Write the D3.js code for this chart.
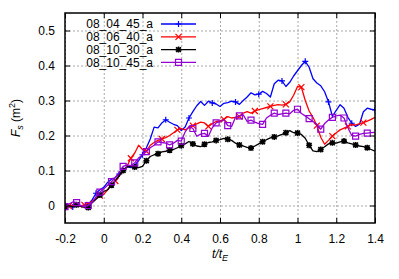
<!DOCTYPE html>
<html>
<head>
<meta charset="utf-8">
<script src="https://cdn.jsdelivr.net/npm/d3@7"></script>
<style>
  body { margin: 0; background: #fff; }
  svg { display: block; font-family: "Liberation Sans", Arial, sans-serif; }
</style>
</head>
<body>
<svg id="chart" width="399" height="279"></svg>
<script>
// normalised time t/t_E, one sample every 0.02
const tNorm = [-0.2,-0.18,-0.16,-0.14,-0.12,-0.1,-0.08,-0.06,-0.04,-0.02,
  0,0.02,0.04,0.06,0.08,0.1,0.12,0.14,0.16,0.18,
  0.2,0.22,0.24,0.26,0.28,0.3,0.32,0.34,0.36,0.38,
  0.4,0.42,0.44,0.46,0.48,0.5,0.52,0.54,0.56,0.58,
  0.6,0.62,0.64,0.66,0.68,0.7,0.72,0.74,0.76,0.78,
  0.8,0.82,0.84,0.86,0.88,0.9,0.92,0.94,0.96,0.98,
  1,1.02,1.04,1.06,1.08,1.1,1.12,1.14,1.16,1.18,
  1.2,1.22,1.24,1.26,1.28,1.3,1.32,1.34,1.36,1.38,1.4]

const fs_08_04_45 = [-0.005,-0.003,-0.004,0.000,-0.002,0.001,0.004,0.016,0.035,0.045,
  0.052,0.066,0.075,0.080,0.090,0.100,0.111,0.108,0.115,0.128,
  0.145,0.165,0.190,0.224,0.222,0.236,0.245,0.238,0.232,0.228,
  0.214,0.224,0.250,0.268,0.285,0.297,0.286,0.298,0.293,0.290,
  0.283,0.292,0.294,0.298,0.296,0.289,0.300,0.310,0.322,0.316,
  0.318,0.326,0.320,0.310,0.348,0.358,0.356,0.340,0.352,0.370,
  0.385,0.400,0.412,0.395,0.362,0.350,0.342,0.325,0.296,0.255,
  0.272,0.288,0.278,0.252,0.235,0.226,0.232,0.268,0.278,0.275,0.273]

const fs_08_06_40 = [-0.004,-0.002,0.000,-0.003,-0.001,0.002,0.006,0.012,0.020,0.028,
  0.032,0.045,0.060,0.070,0.085,0.098,0.112,0.135,0.150,0.172,
  0.160,0.155,0.172,0.180,0.186,0.190,0.194,0.200,0.208,0.216,
  0.220,0.216,0.222,0.228,0.233,0.238,0.236,0.226,0.234,0.240,
  0.242,0.246,0.254,0.250,0.252,0.254,0.264,0.268,0.264,0.270,
  0.274,0.277,0.280,0.283,0.286,0.288,0.287,0.289,0.296,0.315,
  0.340,0.338,0.300,0.270,0.252,0.228,0.195,0.175,0.186,0.198,
  0.208,0.216,0.221,0.226,0.231,0.230,0.234,0.237,0.241,0.246,0.252]

const fs_08_10_30 = [-0.003,0.000,-0.004,0.002,-0.002,-0.005,-0.006,0.008,0.018,0.030,
  0.040,0.045,0.058,0.072,0.085,0.100,0.110,0.112,0.110,0.108,
  0.112,0.128,0.140,0.145,0.148,0.153,0.155,0.158,0.160,0.165,
  0.171,0.176,0.183,0.176,0.170,0.168,0.175,0.180,0.182,0.186,
  0.188,0.192,0.189,0.186,0.178,0.173,0.170,0.166,0.164,0.170,
  0.176,0.182,0.188,0.193,0.196,0.199,0.203,0.208,0.214,0.208,
  0.207,0.203,0.192,0.172,0.156,0.154,0.160,0.168,0.176,0.179,
  0.178,0.182,0.184,0.179,0.176,0.173,0.170,0.168,0.165,0.160,0.155]

const fs_08_10_45 = [-0.003,0.004,0.010,0.008,0.000,-0.003,0.000,0.008,0.025,0.038,
  0.048,0.058,0.068,0.080,0.095,0.112,0.116,0.114,0.122,0.136,
  0.145,0.154,0.165,0.172,0.182,0.180,0.178,0.173,0.178,0.186,
  0.184,0.210,0.226,0.220,0.198,0.204,0.206,0.198,0.222,0.236,
  0.240,0.245,0.228,0.226,0.252,0.256,0.259,0.240,0.244,0.238,
  0.234,0.232,0.250,0.258,0.264,0.260,0.262,0.264,0.262,0.272,
  0.275,0.263,0.256,0.248,0.240,0.232,0.218,0.234,0.244,0.252,
  0.256,0.258,0.250,0.222,0.200,0.198,0.203,0.206,0.207,0.208,0.209]

const seriesNames = ["08_04_45_a", "08_06_40_a", "08_10_30_a", "08_10_45_a"]
const xTicks = [-0.2, 0, 0.2, 0.4, 0.6, 0.8, 1, 1.2, 1.4]
const yTicks = [0, 0.1, 0.2, 0.3, 0.4, 0.5]

const series = [
  {name: seriesNames[0], values: fs_08_04_45, color: "#0000ff", mark: "plus", every: 6, offset: 2},
  {name: seriesNames[1], values: fs_08_06_40, color: "#ff0000", mark: "cross", every: 4, offset: 1},
  {name: seriesNames[2], values: fs_08_10_30, color: "#000000", mark: "star", every: 3, offset: 0},
  {name: seriesNames[3], values: fs_08_10_45, color: "#9400d3", mark: "box", every: 3, offset: 0}
]

const margin = {top: 13, right: 24, bottom: 56, left: 65}
const W = 399, H = 279
const width = W - margin.left - margin.right
const height = H - margin.top - margin.bottom

const x = d3.scaleLinear().domain([-0.2, 1.4]).range([0, width])
const y = d3.scaleLinear().domain([-0.05, 0.55]).range([height, 0])

const fmt = d => String(+d.toFixed(1))

const svg = d3.select("#chart")
const g = svg.append("g").attr("transform", `translate(${margin.left},${margin.top})`)

// dotted grid
g.append("g")
  .attr("transform", `translate(0,${height})`)
  .call(d3.axisBottom(x).tickValues(xTicks).tickSize(-height).tickFormat(""))
  .call(s => s.select(".domain").remove())
  .call(s => s.selectAll("line").attr("stroke", "#a8a8a8").attr("stroke-dasharray", "2,2"))
g.append("g")
  .call(d3.axisLeft(y).tickValues(yTicks).tickSize(-width).tickFormat(""))
  .call(s => s.select(".domain").remove())
  .call(s => s.selectAll("line").attr("stroke", "#a8a8a8").attr("stroke-dasharray", "2,2"))

// marker shapes
function markPath(type, s) {
  if (type === "plus") return `M${-s},0H${s}M0,${-s}V${s}`
  if (type === "cross") return `M${-s},${-s}L${s},${s}M${-s},${s}L${s},${-s}`
  if (type === "star") return `M${-s},0H${s}M0,${-s}V${s}M${-s*0.8},${-s*0.8}L${s*0.8},${s*0.8}M${-s*0.8},${s*0.8}L${s*0.8},${-s*0.8}`
  return `M${-s},${-s}H${s}V${s}H${-s}Z`
}

g.append("clipPath").attr("id", "clip")
  .append("rect").attr("width", width).attr("height", height)

const line = d3.line().x(d => x(d[0])).y(d => y(d[1]))
const plot = g.append("g").attr("clip-path", "url(#clip)")

series.forEach(s => {
  const pts = tNorm.map((t, i) => [t, s.values[i]])
  plot.append("path")
    .datum(pts)
    .attr("fill", "none")
    .attr("stroke", s.color)
    .attr("stroke-width", 1.3)
    .attr("stroke-linejoin", "round")
    .attr("d", line)
  plot.selectAll(null)
    .data(pts.filter((d, i) => (i - s.offset) % s.every === 0 && i >= s.offset))
    .join("path")
    .attr("transform", d => `translate(${x(d[0])},${y(d[1])})`)
    .attr("d", markPath(s.mark, s.mark === "box" ? 3 : 3))
    .attr("fill", "none")
    .attr("stroke", s.color)
    .attr("stroke-width", s.mark === "star" ? 1.6 : 1.2)
})

// border
g.append("rect")
  .attr("width", width).attr("height", height)
  .attr("fill", "none").attr("stroke", "#000").attr("stroke-width", 1.5)

// axes with inward ticks, mirrored on top and right
const tickStyle = s => {
  s.select(".domain").remove()
  s.selectAll("line").attr("stroke", "#000")
  s.selectAll("text").attr("font-size", 12).attr("font-family", "Liberation Sans, Arial, sans-serif").attr("fill", "#000")
}
g.append("g")
  .attr("transform", `translate(0,${height})`)
  .call(d3.axisBottom(x).tickValues(xTicks).tickFormat(fmt).tickSizeInner(-5).tickSizeOuter(0).tickPadding(11))
  .call(tickStyle)
g.append("g")
  .call(d3.axisTop(x).tickValues(xTicks).tickFormat("").tickSizeInner(-5).tickSizeOuter(0))
  .call(tickStyle)
g.append("g")
  .call(d3.axisLeft(y).tickValues(yTicks).tickFormat(fmt).tickSizeInner(-5).tickSizeOuter(0).tickPadding(10))
  .call(tickStyle)
g.append("g")
  .attr("transform", `translate(${width},0)`)
  .call(d3.axisRight(y).tickValues(yTicks).tickFormat("").tickSizeInner(-5).tickSizeOuter(0))
  .call(tickStyle)

// axis titles
const yLab = svg.append("text")
  .attr("transform", `translate(20,${margin.top + height / 2}) rotate(-90)`)
  .attr("text-anchor", "middle")
  .attr("font-size", 12)
yLab.append("tspan").attr("font-style", "italic").text("F")
yLab.append("tspan").attr("font-style", "italic").attr("font-size", 9).attr("dy", 3).text("s")
yLab.append("tspan").attr("dy", -3).text(" (m")
yLab.append("tspan").attr("font-size", 9).attr("dy", -5).text("2")
yLab.append("tspan").attr("dy", 5).text(")")

const xLab = svg.append("text")
  .attr("x", margin.left + width / 2)
  .attr("y", 258)
  .attr("text-anchor", "middle")
  .attr("font-size", 12)
  .attr("font-style", "italic")
xLab.append("tspan").text("t/t")
xLab.append("tspan").attr("font-size", 9).attr("dy", 3).text("E")

// legend
const legend = g.append("g")
series.forEach((s, i) => {
  const ly = 11 + i * 12.8
  legend.append("text")
    .attr("x", 88).attr("y", ly).attr("dy", "0.35em")
    .attr("text-anchor", "end")
    .attr("font-size", 12)
    .text(s.name)
  legend.append("line")
    .attr("x1", 96).attr("x2", 131).attr("y1", ly).attr("y2", ly)
    .attr("stroke", s.color).attr("stroke-width", 1.3)
  legend.append("path")
    .attr("transform", `translate(113.5,${ly})`)
    .attr("d", markPath(s.mark, 3))
    .attr("fill", "none")
    .attr("stroke", s.color)
    .attr("stroke-width", s.mark === "star" ? 1.6 : 1.2)
})
</script>
</body>
</html>
